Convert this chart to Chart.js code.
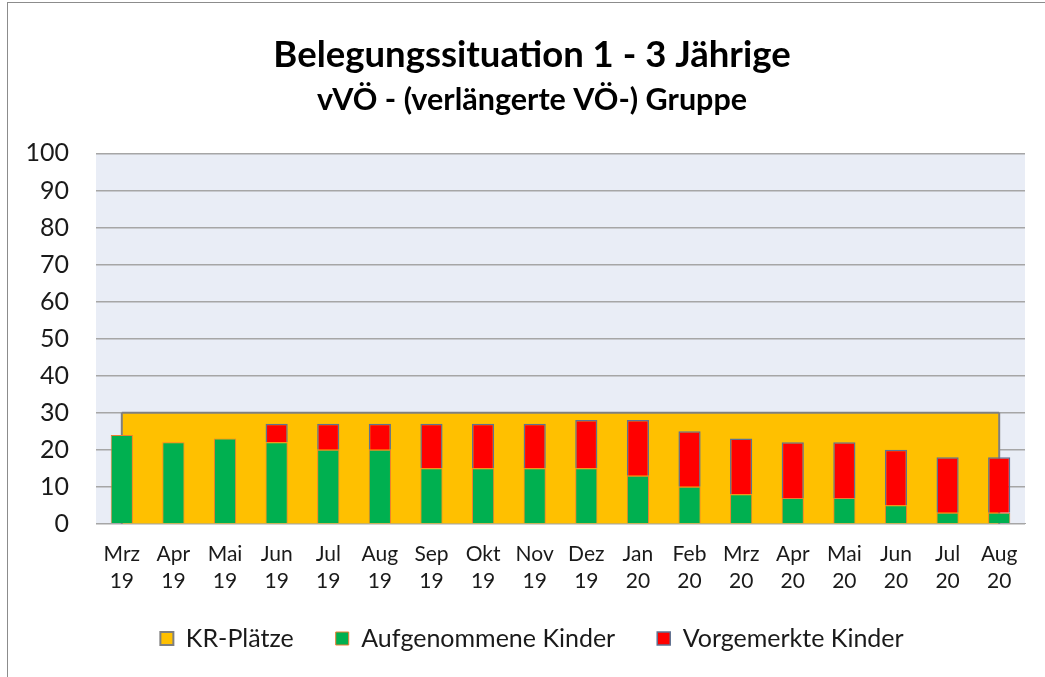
<!DOCTYPE html>
<html>
<head>
<meta charset="utf-8">
<script src="https://cdn.jsdelivr.net/npm/chart.js@4.4.1/dist/chart.umd.min.js"></script>
<style>
  html, body { margin: 0; padding: 0; background: #fff; }
  #wrap { position: relative; width: 1045px; height: 677px; }
  #frame { position: absolute; left: 7px; top: 2px; right: -2px; bottom: -2px; border-left: 1px solid #8c8c8c; border-top: 1px solid #8c8c8c; }
  canvas { position: absolute; left: 0; top: 0; }
</style>
</head>
<body>
<div id="wrap">
  <div id="frame"></div>
  <canvas id="chart" width="1045" height="677"></canvas>
</div>
<script>
// ── Data ────────────────────────────────────────────────────────

const MONTHS = ["Mrz", "Apr", "Mai", "Jun", "Jul", "Aug", "Sep", "Okt", "Nov",
                "Dez", "Jan", "Feb", "Mrz", "Apr", "Mai", "Jun", "Jul", "Aug"];
const YEARS  = ["19", "19", "19", "19", "19", "19", "19", "19", "19",
                "19", "20", "20", "20", "20", "20", "20", "20", "20"];

const KR_PLAETZE   = [30, 30, 30, 30, 30, 30, 30, 30, 30, 30, 30, 30, 30, 30, 30, 30, 30, 30];
const AUFGENOMMEN  = [24, 22, 23, 22, 20, 20, 15, 15, 15, 15, 13, 10,  8,  7,  7,  5,  3,  3];
const VORGEMERKT   = [ 0,  0,  0,  5,  7,  7, 12, 12, 12, 13, 15, 15, 15, 15, 15, 15, 15, 15];

const Y_MIN = 0, Y_MAX = 100, Y_STEP = 10;

// ── Styling ─────────────────────────────────────────────────────

const FONT = "Lato";
const TEXT = "#1a1a1a";

const labels = MONTHS.map((m, i) => [m, YEARS[i]]);

// plot area background
const plotBg = {
  id: "plotBg",
  beforeDraw(chart) {
    const { ctx, chartArea: a } = chart;
    ctx.save();
    ctx.fillStyle = "#e9edf6";
    ctx.fillRect(a.left, a.top, a.right - a.left, a.bottom - a.top);
    ctx.restore();
  },
};

// vertical edges of the KR area
const areaEdges = {
  id: "areaEdges",
  afterDatasetDraw(chart, args) {
    if (args.index !== 0) return;
    const pts = args.meta.data;
    const y0 = chart.scales.y.getPixelForValue(0);
    const { ctx } = chart;
    ctx.save();
    ctx.strokeStyle = "#7f7f7f";
    ctx.lineWidth = 2;
    [pts[0], pts[pts.length - 1]].forEach(p => {
      ctx.beginPath();
      ctx.moveTo(p.x, p.y);
      ctx.lineTo(p.x, y0);
      ctx.stroke();
    });
    ctx.restore();
  },
};

// scale boxes were squeezed in afterFit; widen them again so tick labels aren't clipped
const unclipTicks = {
  id: "unclipTicks",
  afterLayout(chart) {
    chart.scales.x.bottom += 40;
    chart.scales.y.left = 0;
  },
};

new Chart(document.getElementById("chart"), {
  type: "bar",
  data: {
    labels,
    datasets: [
      {
        type: "line",
        label: "KR-Plätze",
        data: KR_PLAETZE,
        stack: "kr",
        order: 3,
        borderColor: "#7f7f7f",
        borderWidth: 2,
        backgroundColor: "#ffc000",
        fill: "origin",
        pointRadius: 0,
        tension: 0,
      },
      {
        label: "Aufgenommene Kinder",
        data: AUFGENOMMEN,
        stack: "kids",
        order: 1,
        backgroundColor: "#00b050",
        borderColor: "#ed7d31",
        borderWidth: 1,
        barPercentage: 0.43,
        categoryPercentage: 1,
      },
      {
        label: "Vorgemerkte Kinder",
        data: VORGEMERKT,
        stack: "kids",
        order: 1,
        backgroundColor: "#ff0000",
        borderColor: "#5f7191",
        borderWidth: 1.5,
        barPercentage: 0.43,
        categoryPercentage: 1,
      },
    ],
  },
  plugins: [plotBg, areaEdges, unclipTicks],
  options: {
    responsive: false,
    animation: false,
    layout: { padding: { left: 39, right: 20, top: 0, bottom: 16 } },
    plugins: {
      title: {
        display: true,
        text: "Belegungssituation 1 - 3 Jährige",
        color: "#000",
        font: { family: FONT, size: 36.5, weight: "bold" },
        padding: { top: 33, bottom: 5 },
      },
      subtitle: {
        display: true,
        text: "vVÖ - (verlängerte VÖ-) Gruppe",
        color: "#000",
        font: { family: FONT, size: 30.5, weight: "bold" },
        padding: { top: 0, bottom: 35 },
      },
      legend: {
        position: "bottom",
        labels: {
          color: TEXT,
          font: { family: FONT, size: 25 },
          boxWidth: 13,
          boxHeight: 13,
          padding: 42,
          sort: (a, b) => a.datasetIndex - b.datasetIndex,
        },
      },
      tooltip: { enabled: false },
    },
    scales: {
      x: {
        stacked: true,
        afterFit: (s) => { s.height -= 20; },
        grid: { display: false },
        border: { display: true, color: "#a6a6a6", width: 1 },
        ticks: {
          color: TEXT,
          font: { family: FONT, size: 21, lineHeight: 1.29 },
          maxRotation: 0,
          autoSkip: false,
          padding: 9,
        },
      },
      y: {
        stacked: true,
        min: Y_MIN,
        max: Y_MAX,
        afterFit: (s) => { s.width = 57; },
        grid: { color: "#a6a6a6", lineWidth: 1.5, drawTicks: false },
        border: { display: false },
        ticks: {
          stepSize: Y_STEP,
          color: TEXT,
          font: { family: FONT, size: 25 },
          padding: 27,
        },
      },
    },
  },
});
</script>
</body>
</html>
